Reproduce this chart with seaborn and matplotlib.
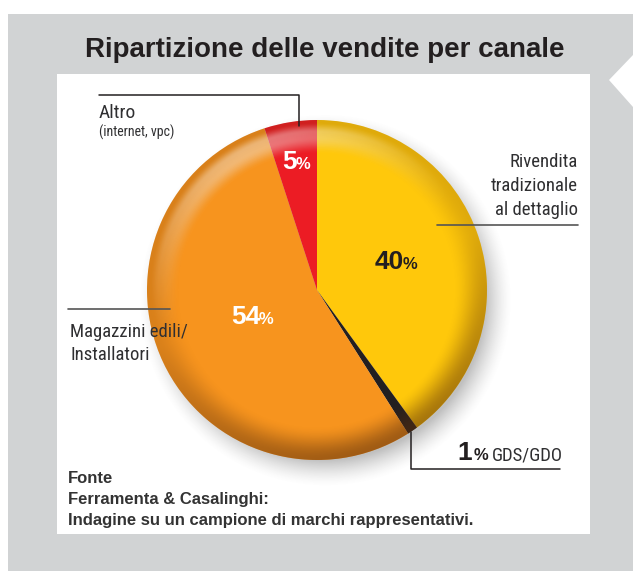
import numpy as np
import matplotlib
matplotlib.use("Agg")
import matplotlib.pyplot as plt
from matplotlib import font_manager as fm
from matplotlib.patches import Polygon, Rectangle, Circle
import seaborn as sns

# ---- data ----
categories = ["Rivendita\ntradizionale\nal dettaglio", "GDS/GDO",
              "Magazzini edili/\nInstallatori", "Altro"]
shares = [40, 1, 54, 5]
pct_labels = ["40", "1", "54", "5"]
colors = ["#FFC80B", "#231F20", "#F7941E", "#EC1C24"]
title = "Ripartizione delle vendite per canale"
altro_sub = "(internet, vpc)"
source_lines = ["Fonte", "Ferramenta & Casalinghi:",
                "Indagine su un campione di marchi rappresentativi."]

sns.set_theme(style="white")
plt.rcParams['font.family'] = ['Liberation Sans', 'DejaVu Sans']

# pick a condensed / narrow face if one is installed
narrow_family, narrow_stretch, nscale = ['DejaVu Sans'], 'normal', 0.80
fl = fm.fontManager.ttflist
names = {f.name for f in fl}
for cand in ['Liberation Sans Narrow', 'Roboto Condensed', 'Open Sans Condensed',
             'Noto Sans Condensed', 'Arial Narrow']:
    if cand in names:
        narrow_family, narrow_stretch, nscale = [cand, 'DejaVu Sans'], 'normal', 1.0
        break
else:
    for f in fl:
        if f.stretch not in ('normal', 500, 'medium') and 'ondensed' in (f.fname + str(f.stretch)):
            narrow_family, narrow_stretch, nscale = [f.name, 'DejaVu Sans'], 'condensed', 1.0
            break

def ntext(ax, x, y, s, size, **kw):
    return ax.text(x, y, s, fontsize=size * nscale, family=narrow_family,
                   fontstretch=narrow_stretch, va='baseline', **kw)

W, H = 640, 580
fig = plt.figure(figsize=(6.4, 5.8), dpi=100)
fig.patch.set_facecolor('white')

# background frame (pixel coordinates)
bg = fig.add_axes([0, 0, 1, 1])
bg.set_xlim(0, W); bg.set_ylim(H, 0); bg.axis('off')
bg.add_patch(Polygon([(8, 14), (633, 14), (633, 55), (609, 80), (633, 107),
                      (633, 571), (8, 571)], closed=True, fc='#D1D3D4', ec='none'))
bg.add_patch(Rectangle((57, 74), 533, 460, fc='white', ec='none'))

# pie axes
cx, cy, R = 317, 290, 170
lim = 1.2
half = R * lim
pax = fig.add_axes([(cx - half) / W, (H - cy - half) / H, 2 * half / W, 2 * half / H])
pax.patch.set_alpha(0)

# soft shadow
n = 400
g = np.linspace(-lim, lim, n)
X, Y = np.meshgrid(g, g)
d = np.hypot(X - 0.05, Y + 0.06)
sh = np.clip((1.10 - d) / 0.16, 0, 1) ** 1.5 * 0.45
shadow = np.zeros((n, n, 4)); shadow[..., :3] = 0.45; shadow[..., 3] = sh
pax.imshow(shadow, extent=(-lim, lim, -lim, lim), origin='lower', zorder=0,
           interpolation='bilinear')

wedges, _ = pax.pie(shares, colors=colors, startangle=90, counterclock=False,
                    radius=1, wedgeprops=dict(linewidth=0), frame=False)
for w in wedges:
    w.set_zorder(2)

# shading overlays (rim darkening and highlight)
r = np.hypot(X, Y)
th = np.arctan2(Y, X)
def smooth(a, b, x):
    t = np.clip((x - a) / (b - a), 0, 1)
    return t * t * (3 - 2 * t)
dark = 0.55 * smooth(0.80, 1.0, r) * (0.35 + 0.65 * np.clip(np.cos(th + np.radians(70)), 0, 1))
dimg = np.zeros((n, n, 4)); dimg[..., 0] = 0.35; dimg[..., 1] = 0.18; dimg[..., 2] = 0.05
dimg[..., 3] = dark
im1 = pax.imshow(dimg, extent=(-lim, lim, -lim, lim), origin='lower', zorder=3,
                 interpolation='bilinear')
band = smooth(0.80, 0.90, r) * (1 - smooth(0.93, 0.99, r))
hl = 0.40 * band * np.clip(np.cos(th - np.radians(115)), 0, 1) ** 2
himg = np.ones((n, n, 4)); himg[..., 3] = hl
im2 = pax.imshow(himg, extent=(-lim, lim, -lim, lim), origin='lower', zorder=4,
                 interpolation='bilinear')
im1.set_clip_path(Circle((0, 0), 1.0, transform=pax.transData))
im2.set_clip_path(Circle((0, 0), 1.0, transform=pax.transData))

pax.set_xlim(-lim, lim); pax.set_ylim(-lim, lim)
pax.set_aspect('equal'); pax.axis('off')

# percentage labels inside the pie (join point between number and %)
label_r = [0.54, None, 0.37, 0.76]
label_col = ["#231F20", None, "white", "white"]
for w, txt, rr, col in zip(wedges, pct_labels, label_r, label_col):
    if rr is None:
        continue
    ang = np.radians((w.theta1 + w.theta2) / 2)
    x, y = rr * np.cos(ang), rr * np.sin(ang)
    pax.text(x, y, txt, ha='right', va='center', fontsize=19,
             fontweight='bold', color=col, zorder=6)
    pax.text(x - 0.008, y - 0.015, "%", ha='left', va='center', fontsize=12,
             fontweight='bold', color=col, zorder=6)

# top overlay for labels and leader lines (pixel coordinates)
top = fig.add_axes([0, 0, 1, 1])
top.set_xlim(0, W); top.set_ylim(H, 0); top.axis('off'); top.patch.set_alpha(0)

top.text(W / 2 + 5, 57, title, ha='center', va='baseline', fontsize=20,
         fontweight='bold', color='#231F20')

lc = '#2F2F31'
# Altro
top.plot([99, 299, 299], [95, 95, 126], color='#231F20', lw=1.1)
ntext(top, 99, 118, categories[3], 14, ha='left', color=lc)
ntext(top, 99, 137, altro_sub, 10, ha='left', color=lc)
# Rivendita
top.plot([437, 578], [225, 225], color='#555555', lw=1.2)
for i, line in enumerate(categories[0].split("\n")):
    ntext(top, 578, 167 + 24 * i, line, 13.5, ha='right', color=lc)
# Magazzini
top.plot([68, 170], [309, 309], color='#555555', lw=1.2)
for i, line in enumerate(categories[2].split("\n")):
    ntext(top, 70, 337 + 23 * i, line, 13.5, ha='left', color=lc)
# GDS/GDO
top.plot([411, 411, 560], [432, 469, 469], color='#231F20', lw=1.1)
ntext(top, 492, 460, categories[1], 13.5, ha='left', color=lc)
top.text(488, 460, "%", ha='right', va='baseline', fontsize=12,
         fontweight='bold', color='#231F20')
top.text(472, 460, pct_labels[1], ha='right', va='baseline', fontsize=19,
         fontweight='bold', color='#231F20')

# source
for i, line in enumerate(source_lines):
    top.text(68, 483 + 21 * i, line, ha='left', va='baseline', fontsize=12,
             fontweight='bold', color='#333333')

fig.savefig("out.png", dpi=100, facecolor='white')
